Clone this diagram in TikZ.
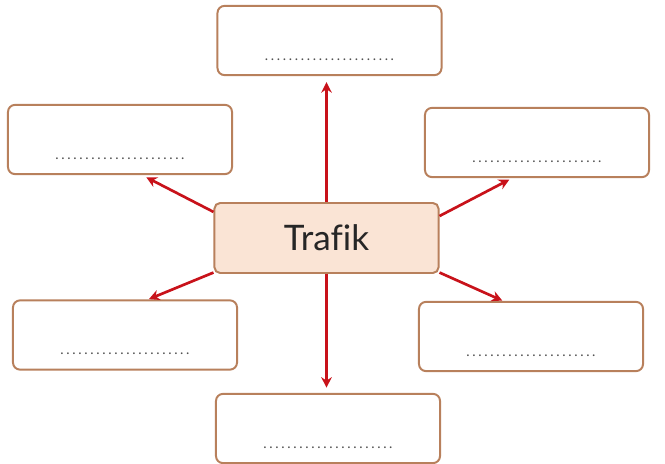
\documentclass[tikz,border=0pt]{standalone}
\usepackage{fontspec}
\setmainfont{Lato}[Ligatures=NoCommon]
\usepackage{tikz}
\usetikzlibrary{arrows,arrows.meta,shapes,positioning,calc}
\usepackage{xcolor}
\definecolor{mmbrown}{RGB}{184,128,92}
\definecolor{mmpeach}{RGB}{250,228,213}
\definecolor{mmred}{RGB}{200,18,26}
\definecolor{mmgray}{RGB}{80,80,80}
\newcommand{\dotrow}{\foreach \i in {1,...,22}{.\hspace{1.9pt}}\unskip}
\tikzstyle{arrow} = [line width=1.9pt,->,>={Stealth[length=7.5pt,width=7.5pt]},color=mmred]
\tikzstyle{topicbox} = [rectangle, rounded corners=4pt, minimum width=5.6cm, minimum height=1.75cm, text centered, draw=mmbrown, fill=mmpeach, line width=1.4pt, inner sep=0pt, text=black!85, font=\fontsize{25}{30}\selectfont]
\tikzstyle{blankbox} = [rectangle, rounded corners=5pt, minimum width=5.6cm, text centered, draw=mmbrown, fill=white, line width=1.4pt, inner sep=0pt, text height=1.36cm, text depth=0.37cm, text=mmgray, font=\fontsize{10}{12}\selectfont]

\begin{document}
\begin{tikzpicture}[x=0.025cm, y=-0.025cm]
\useasboundingbox (0,0) rectangle (665,464);
% Center topic
\node[topicbox] (trafik) at (326.5, 238) {Trafik};

% Blank boxes round it
\node[blankbox] (topbox) at (329.5, 40.5) {\dotrow};
\node[blankbox] (ulbox) at (120, 139.5) {\dotrow};
\node[blankbox] (urbox) at (537, 142.5) {\dotrow};
\node[blankbox] (llbox) at (125, 335) {\dotrow};
\node[blankbox] (lrbox) at (531, 336.5) {\dotrow};
\node[blankbox] (botbox) at (328, 428.5) {\dotrow};

% Arrows out of the topic
\draw[arrow, shorten >=0.15cm] (trafik.north) -- (trafik.north |- topbox.south);
\draw[arrow, shorten >=0.13cm] (trafik.south) -- (trafik.south |- botbox.north);
\draw[arrow, shorten >=0.12cm] (trafik.167) -- ([xshift=0.55cm]ulbox.south);
\draw[arrow, shorten >=0.08cm] (trafik.11) -- ([xshift=-0.62cm]urbox.south);
\draw[arrow, shorten >=0.02cm] (trafik.197) -- ([xshift=0.58cm]llbox.north);
\draw[arrow, shorten >=0.02cm] (trafik.-17) -- ([xshift=-0.7cm]lrbox.north);
\end{tikzpicture}
\end{document}
